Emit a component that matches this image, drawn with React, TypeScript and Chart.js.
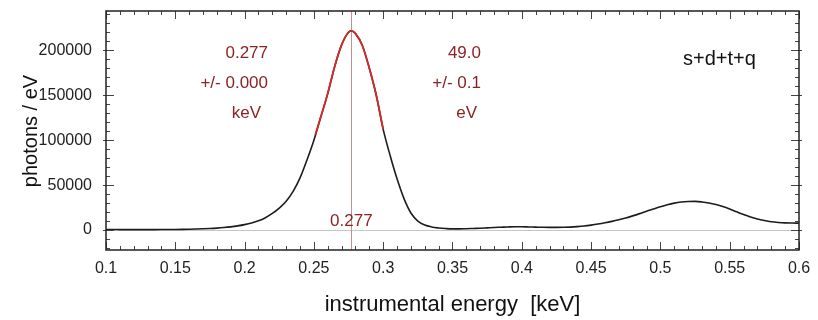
import React, { useEffect, useRef } from 'react';
import { Chart, registerables } from 'chart.js';

Chart.register(...registerables);

// measured spectrum (keV, photons / eV)
const energyKeV = [
  0.1, 0.105, 0.11, 0.115, 0.12, 0.125, 0.13, 0.135, 0.14, 0.145,
  0.15, 0.155, 0.16, 0.165, 0.17, 0.175, 0.18, 0.185, 0.19, 0.195,
  0.2, 0.205, 0.21, 0.215, 0.22, 0.225, 0.23, 0.235, 0.24, 0.245,
  0.25, 0.255, 0.26, 0.265, 0.27, 0.275, 0.277, 0.28, 0.285, 0.29, 0.295,
  0.3, 0.305, 0.31, 0.315, 0.32, 0.325, 0.33, 0.335, 0.34, 0.345,
  0.35, 0.355, 0.36, 0.365, 0.37, 0.375, 0.38, 0.385, 0.39, 0.395,
  0.4, 0.405, 0.41, 0.415, 0.42, 0.425, 0.43, 0.435, 0.44, 0.445,
  0.45, 0.455, 0.46, 0.465, 0.47, 0.475, 0.48, 0.485, 0.49, 0.495,
  0.5, 0.505, 0.51, 0.515, 0.52, 0.525, 0.53, 0.535, 0.54, 0.545,
  0.55, 0.555, 0.56, 0.565, 0.57, 0.575, 0.58, 0.585, 0.59, 0.595, 0.6,
];
const photonsPerEV = [
  600, 600, 550, 500, 500, 500, 500, 550, 600, 650,
  700, 800, 950, 1150, 1400, 1750, 2200, 2800, 3600, 4700,
  6100, 7900, 10300, 13800, 18500, 24500, 32000, 43000, 58000, 78000,
  100000, 126000, 152000, 182000, 206000, 220000, 221500, 218500, 205000, 180000, 150000,
  112000, 83000, 57000, 35000, 19000, 10000, 5600, 3500, 2400, 1700,
  1300, 1300, 1500, 1800, 2100, 2500, 2900, 3200, 3500, 3700,
  3700, 3500, 3300, 3100, 3000, 3000, 3100, 3300, 3800, 4500,
  5500, 6700, 8100, 9700, 11500, 13500, 15800, 18300, 21000, 23500,
  26000, 28200, 30000, 31200, 31800, 31900, 31300, 30200, 28500, 26300,
  23500, 20300, 17200, 14500, 12300, 10600, 9300, 8500, 8000, 7800, 7700,
];

// fitted peak (red)
const fitEnergyKeV = [0.251, 0.255, 0.26, 0.265, 0.27, 0.275, 0.277, 0.28, 0.285, 0.29, 0.295, 0.3];
const fitPhotonsPerEV = [106000, 126000, 152000, 182000, 206000, 220000, 221500, 218500, 205000, 180000, 150000, 112000];

const xTickValues = [0.1, 0.15, 0.2, 0.25, 0.3, 0.35, 0.4, 0.45, 0.5, 0.55, 0.6];
const yTickValues = [0, 50000, 100000, 150000, 200000];

const peakCentreKeV = 0.277;
const centreLabel = '0.277';
const centreLines = ['0.277', '+/- 0.000', 'keV'];
const widthLines = ['49.0', '+/- 0.1', 'eV'];
const modelLabel = 's+d+t+q';
const xTitle = 'instrumental energy  [keV]';
const yTitle = 'photons / eV';

const FONT = '"Liberation Sans", Arial, Helvetica, sans-serif';
const DARK_RED = '#8c2323';

const framePlugin = {
  id: 'frame',
  beforeDatasetsDraw(chart: any) {
    const { ctx, chartArea: a, scales } = chart;
    const x = scales.x;
    const y = scales.y;
    ctx.save();
    ctx.lineWidth = 1;
    ctx.strokeStyle = '#c6c6c6';
    const y0 = Math.round(y.getPixelForValue(0)) + 0.5;
    ctx.beginPath();
    ctx.moveTo(a.left, y0);
    ctx.lineTo(a.right, y0);
    ctx.stroke();
    ctx.strokeStyle = '#c98e8e';
    const xp = Math.round(x.getPixelForValue(peakCentreKeV)) + 0.5;
    ctx.beginPath();
    ctx.moveTo(xp, a.top);
    ctx.lineTo(xp, a.bottom);
    ctx.stroke();
    ctx.restore();
  },
  afterDatasetsDraw(chart: any) {
    const { ctx, chartArea: a, scales } = chart;
    const x = scales.x;
    const y = scales.y;
    ctx.save();
    // tick marks on all four sides
    ctx.strokeStyle = '#444';
    ctx.lineWidth = 1;
    ctx.beginPath();
    for (let i = 0; i <= 50; i++) {
      const v = 0.1 + i * 0.01;
      const px = Math.round(x.getPixelForValue(v)) + 0.5;
      const len = i % 5 === 0 ? 8 : 4;
      ctx.moveTo(px, a.bottom);
      ctx.lineTo(px, a.bottom - len);
      ctx.moveTo(px, a.top);
      ctx.lineTo(px, a.top + len);
    }
    for (let v = -20000; v <= 240000; v += 10000) {
      const py = Math.round(y.getPixelForValue(v)) + 0.5;
      const major = v % 50000 === 0;
      const len = major ? 8 : 4;
      ctx.moveTo(a.left - (major ? 3 : 0), py);
      ctx.lineTo(a.left + len, py);
      ctx.moveTo(a.right + (major ? 3 : 0), py);
      ctx.lineTo(a.right - len, py);
    }
    ctx.stroke();
    // frame
    ctx.strokeStyle = '#222';
    ctx.lineWidth = 1.5;
    ctx.strokeRect(a.left, a.top, a.right - a.left, a.bottom - a.top);

    // annotations
    ctx.fillStyle = DARK_RED;
    ctx.font = `17px ${FONT}`;
    ctx.textBaseline = 'middle';
    ctx.textAlign = 'right';
    const rowY = [53, 83, 113];
    centreLines.forEach((t, i) => ctx.fillText(t, i === 2 ? 261 : 268, rowY[i]));
    widthLines.forEach((t, i) => ctx.fillText(t, i === 2 ? 477 : 481, rowY[i]));
    ctx.textAlign = 'center';
    ctx.fillText(centreLabel, x.getPixelForValue(peakCentreKeV), 221);

    ctx.fillStyle = '#111';
    ctx.font = `20px ${FONT}`;
    ctx.textAlign = 'left';
    ctx.fillText(modelLabel, 683, 59);

    // axis titles
    ctx.fillStyle = '#111';
    ctx.font = `22px ${FONT}`;
    ctx.textAlign = 'center';
    ctx.fillText(xTitle, (a.left + a.right) / 2, 305);
    ctx.save();
    ctx.translate(31, 131);
    ctx.rotate(-Math.PI / 2);
    ctx.font = `20px ${FONT}`;
    ctx.fillText(yTitle, 0, 0);
    ctx.restore();
    ctx.restore();
  },
};

export default function App() {
  const ref = useRef<HTMLCanvasElement | null>(null);

  useEffect(() => {
    document.body.style.margin = '0';
    const canvas = ref.current;
    if (!canvas) return;
    const chart = new Chart(canvas, {
      type: 'line',
      data: {
        datasets: [
          {
            label: 'fit',
            data: fitEnergyKeV.map((e, i) => ({ x: e, y: fitPhotonsPerEV[i] })),
            borderColor: '#d42a2a',
            borderWidth: 1.8,
            pointRadius: 0,
            cubicInterpolationMode: 'monotone',
            order: 0,
          },
          {
            label: 'spectrum',
            data: energyKeV.map((e, i) => ({ x: e, y: photonsPerEV[i] })),
            borderColor: '#1c1c1c',
            borderWidth: 1.6,
            pointRadius: 0,
            cubicInterpolationMode: 'monotone',
            order: 1,
          },
        ],
      },
      options: {
        animation: false,
        responsive: false,
        devicePixelRatio: 1,
        layout: { padding: { left: 0, right: 19, top: 11, bottom: 0 } },
        plugins: { legend: { display: false }, tooltip: { enabled: false } },
        scales: {
          x: {
            type: 'linear',
            min: 0.1,
            max: 0.6,
            afterBuildTicks: (s: any) => {
              s.ticks = xTickValues.map((v) => ({ value: v }));
            },
            afterFit: (s: any) => {
              s.height = 70;
              s.paddingLeft = 0;
              s.paddingRight = 0;
            },
            grid: { display: false, drawTicks: false },
            border: { display: false },
            ticks: {
              padding: 9,
              color: '#222',
              font: { family: FONT, size: 16 },
              maxRotation: 0,
              autoSkip: false,
              callback: (v: any) => String(parseFloat(Number(v).toFixed(3))),
            },
          },
          y: {
            type: 'linear',
            min: -22150,
            max: 243650,
            afterBuildTicks: (s: any) => {
              s.ticks = yTickValues.map((v) => ({ value: v }));
            },
            afterFit: (s: any) => {
              s.width = 106;
              s.paddingTop = 0;
              s.paddingBottom = 0;
            },
            grid: { display: false, drawTicks: false },
            border: { display: false },
            ticks: {
              padding: 14,
              color: '#222',
              font: { family: FONT, size: 16 },
              autoSkip: false,
              callback: (v: any) => String(v),
            },
          },
        },
      },
      plugins: [framePlugin],
    });
    return () => chart.destroy();
  }, []);

  return (
    <div style={{ width: 818, height: 320, overflow: 'hidden', background: '#fff' }}>
      <canvas ref={ref} width={818} height={320} style={{ display: 'block' }} />
    </div>
  );
}
